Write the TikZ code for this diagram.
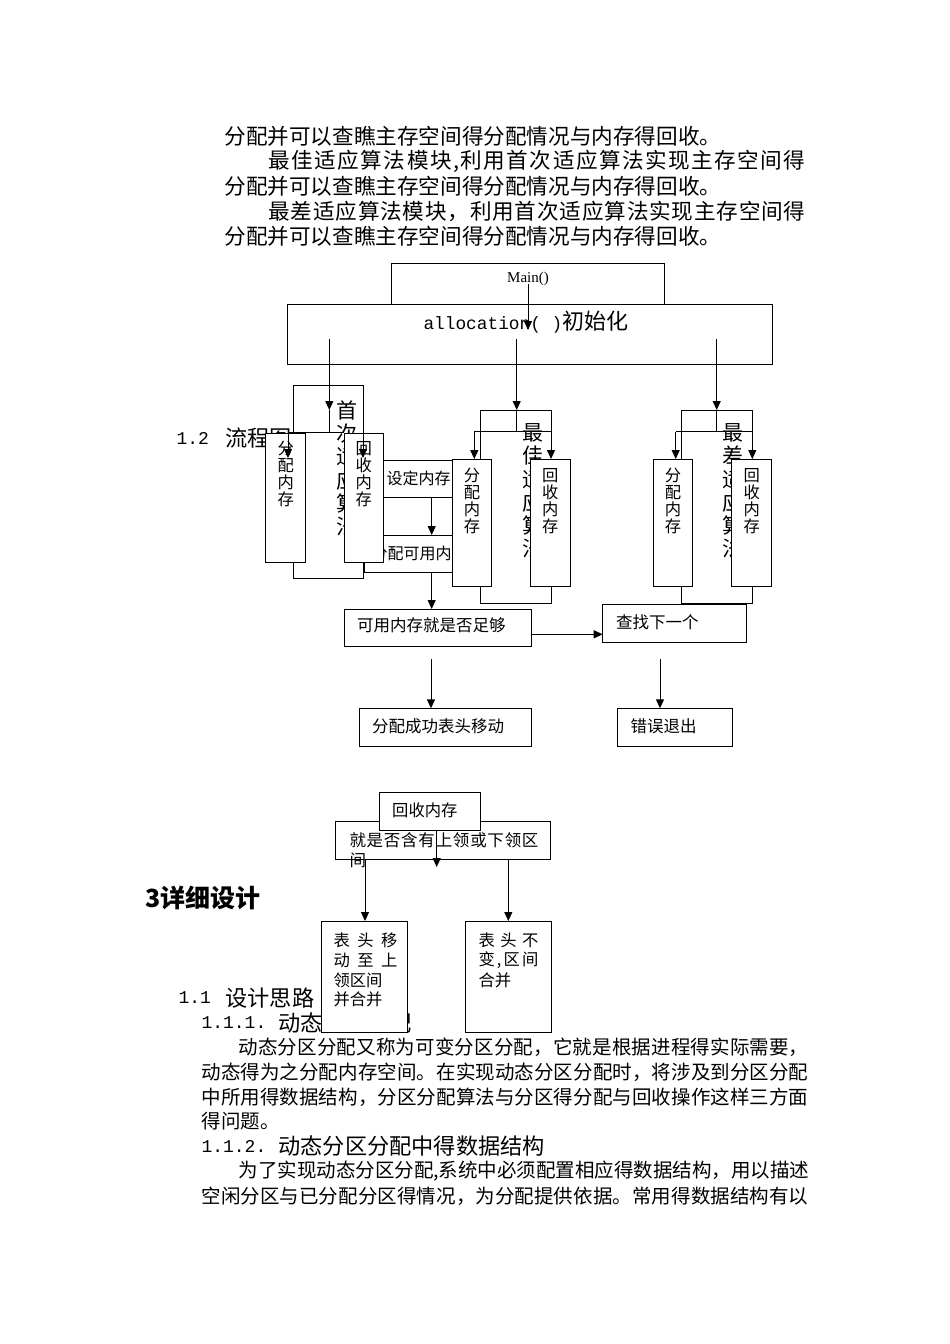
\documentclass[tikz,border=0pt]{standalone}
\usepackage{fontspec}
\setmainfont{Noto Sans CJK SC}
\newfontfamily\monof{Liberation Mono}
\newfontfamily\serf{Liberation Serif}
\usetikzlibrary{arrows.meta}
\newcommand\fsz[1]{\fontsize{#1}{#1}\selectfont}
\ExplSyntaxOn
\NewDocumentCommand\spr{mm}
 {
  \hbox_to_wd:nn {#1}
   {
    \bool_set_false:N \l_tmpa_bool
    \tl_map_inline:nn {#2}
     {
      \bool_if:NT \l_tmpa_bool { \hfil }
      \bool_set_true:N \l_tmpa_bool
      ##1
     }
   }
 }
\NewDocumentCommand\vstack{mm}
 {
  \vbox
   {
    \baselineskip=#1\relax
    \lineskiplimit=-\maxdimen
    \tl_map_inline:nn {#2} { \hbox_to_wd:nn {1em} { \hss ##1 \hss } }
   }
 }
\ExplSyntaxOff
\newcommand\boxnode[5]{\node[bx, anchor=north west, minimum width={#4pt-#2pt}, minimum height={#5pt-#3pt}] (#1) at (#2,#3) {};}
\begin{document}
\begin{tikzpicture}[x=1pt,y=-1pt,line width=1pt,
  bx/.style={draw=black, fill=white, inner sep=0pt, outer sep=0pt},
  arr/.style={-{Triangle[length=9pt,width=8pt]}},
  txt/.style={inner sep=0pt, anchor=west},
  vtx/.style={inner sep=0pt, anchor=north}]
\fill[white] (0,0) rectangle (950,1344);
\useasboundingbox (0,0) rectangle (950,1344);

% ---------- top paragraphs ----------
\node[txt] (p1) at (224,136) {\fsz{21.6}分配并可以查瞧主存空间得分配情况与内存得回收。};
\node[txt] (p2) at (268,161) {\fsz{21.6}\spr{537pt}{最佳适应算法模块,利用首次适应算法实现主存空间得}};
\node[txt] (p3) at (224,186) {\fsz{21.6}分配并可以查瞧主存空间得分配情况与内存得回收。};
\node[txt] (p4) at (268,211) {\fsz{21.6}\spr{537pt}{最差适应算法模块，利用首次适应算法实现主存空间得}};
\node[txt] (p5) at (224,236) {\fsz{21.6}分配并可以查瞧主存空间得分配情况与内存得回收。};

% ---------- background texts of the flow chart ----------
\node[txt] (h12n) at (176,438) {\monof\fsz{18}1.2};
\node[txt] (h12t) at (225,438) {\fsz{22.2}流程图};
\node[vtx] (v1) at (346.7,400) {\fsz{21}\vstack{23.3pt}{首次适应算法}};
\node[vtx] (v2) at (533,423) {\fsz{21}\vstack{23.3pt}{最佳适应算法}};
\node[vtx] (v3) at (733,423) {\fsz{21}\vstack{23.3pt}{最差适应算法}};

\boxnode{sd}{370}{460}{458}{497}
\node[txt] (sdt) at (386,478) {\fsz{16}设定内存};
\boxnode{fp}{364}{535}{458}{572}
\node[txt] (fpt) at (371,553) {\fsz{16}分配可用内存};

% ---------- top boxes ----------
\boxnode{mainb}{391}{263}{664}{304}
\node (maint) at (528,279) {\serf\fsz{15}Main()};
\boxnode{alloc}{287}{304}{772}{364}
\node[txt] (alloct) at (423,322) {{\monof\fsz{17.8}allocation(\ )}{\fsz{22}初始化}};

% ---------- group boxes ----------
\boxnode{g1a}{265.7}{433}{305.7}{562}
\boxnode{g1b}{344}{433}{383.3}{562}
\boxnode{g2a}{452.3}{459}{491.7}{586.7}
\boxnode{g2b}{530.7}{459}{570}{586.7}
\boxnode{g3a}{653.3}{459}{692.7}{586.7}
\boxnode{g3b}{731.7}{459}{771.7}{586.7}
\node[vtx] at (g1a.north |- 0,441) {\fsz{16.3}\vstack{17pt}{分配内存}};
\node[vtx] at (g1b.north |- 0,441) {\fsz{16.3}\vstack{17pt}{回收内存}};
\node[vtx] at (g2a.north |- 0,467.5) {\fsz{16.3}\vstack{17pt}{分配内存}};
\node[vtx] at (g2b.north |- 0,467.5) {\fsz{16.3}\vstack{17pt}{回收内存}};
\node[vtx] at (g3a.north |- 0,467.5) {\fsz{16.3}\vstack{17pt}{分配内存}};
\node[vtx] at (g3b.north |- 0,467.5) {\fsz{16.3}\vstack{17pt}{回收内存}};

% ---------- arrows from Main and allocation ----------
\coordinate (m1) at (528,284);
\coordinate (m2) at (528,330);
\draw[arr] (m1) -- (m2);

\coordinate (a1s) at (329.3,339); \coordinate (a1h) at (329.3,410); \coordinate (a1j) at (329.3,432);
\coordinate (a2s) at (516.7,339); \coordinate (a2h) at (516.7,410); \coordinate (a2j) at (516.7,431.7);
\coordinate (a3s) at (716.7,339); \coordinate (a3h) at (716.7,410); \coordinate (a3j) at (716.7,431.7);
\draw[arr] (a1s) -- (a1h); \draw (a1h) -- (a1j);
\draw[arr] (a2s) -- (a2h); \draw (a2h) -- (a2j);
\draw[arr] (a3s) -- (a3h); \draw (a3h) -- (a3j);

% group 1 connectors
\coordinate (t1L) at (293,385); \coordinate (t1R) at (363,385);
\coordinate (t1Re) at (363,458);
\coordinate (j1L) at (288,432); \coordinate (j1R) at (344,432);
\coordinate (j1Le) at (288,458);
\draw (g1a.north -| t1L) -- (t1L) -- (t1R);
\draw[arr] (t1R) -- (t1Re);
\draw (j1L) -- (j1R);
\draw[arr] (j1L) -- (j1Le);
\draw (g1a.south -| t1L) -- ++(0,16) -| (g1b.south -| t1R);

% group 2 connectors
\coordinate (t2L) at (480.7,410); \coordinate (t2R) at (551,410);
\coordinate (j2L) at (474.3,431.7); \coordinate (j2R) at (551,431.7);
\draw (g2a.north -| t2L) -- (t2L) -- (t2R);
\draw[arr] (t2R) -- (g2b.north -| t2R);
\draw (j2L) -- (j2R);
\draw[arr] (j2L) -- (g2a.north -| j2L);
\draw (g2a.south -| t2L) -- ++(0,16.6) -| (g2b.south -| t2R);

% group 3 connectors
\coordinate (t3L) at (681.7,410); \coordinate (t3R) at (752.3,410);
\coordinate (j3L) at (675.7,431.7); \coordinate (j3R) at (752.3,431.7);
\draw (g3a.north -| t3L) -- (t3L) -- (t3R);
\draw[arr] (t3R) -- (g3b.north -| t3R);
\draw (j3L) -- (j3R);
\draw[arr] (j3L) -- (g3a.north -| j3L);
\draw (g3a.south -| t3L) -- ++(0,16.6) -| (g3b.south -| t3R);

% ---------- lower flow ----------
\boxnode{ky}{344.3}{609}{531}{646.7}
\node[txt] (kyt) at (356.7,625) {\fsz{16.5}可用内存就是否足够};
\boxnode{cz}{602.7}{604.3}{746.7}{642.3}
\node[txt] (czt) at (615.7,622.7) {\fsz{16.5}查找下一个};
\boxnode{cg}{359}{708.3}{531}{746}
\node[txt] (cgt) at (371.7,726) {\fsz{16.5}分配成功表头移动};
\boxnode{cw}{617.7}{708.3}{732.3}{746}
\node[txt] (cwt) at (630,726) {\fsz{16.5}错误退出};

\coordinate (x1) at (431.7,0);
\draw[arr] (sd.south -| x1) -- (fp.north -| x1);
\draw[arr] (fp.south -| x1) -- (ky.north -| x1);
\coordinate (r1) at (0,634.3);
\draw[arr] (ky.east |- r1) -- (cz.west |- r1);
\coordinate (d1s) at (431,659);
\draw[arr] (d1s) -- (cg.north -| d1s);
\coordinate (d2s) at (660,659);
\draw[arr] (d2s) -- (cw.north -| d2s);

% ---------- recycle diagram ----------
\boxnode{jz}{335.7}{821.7}{550.7}{859}
\boxnode{hs}{379}{792.3}{480}{830}
\node[txt] (hst) at (391.7,810) {\fsz{16.3}回收内存};
\node[txt] (jzt1) at (349,840) {\fsz{16.5}\spr{189pt}{就是否含有上领或下领区}};
\node[txt] (jzt2) at (349,860) {\fsz{16.5}间};
\coordinate (hsa) at (436.7,867);
\draw[arr] (hs.south -| hsa) -- (hsa);

\node[txt] (h3) at (145,898) {\fsz{25}\bfseries 3详细设计};

\node[txt] (h11n) at (178,998) {\monof\fsz{18}1.1};
\node[txt] (h11t) at (225,998) {\fsz{22.2}设计思路};
\node[txt] (h111n) at (201,1023) {\monof\fsz{18}1.1.1.};
\node[txt] (h111t) at (278,1023) {\fsz{22.2}动态分区分配};

\boxnode{lb}{321.7}{921}{407.7}{1032}
\boxnode{rb}{465.7}{921}{551.7}{1032}
\node[txt] (lbt1) at (333,940) {\fsz{16.3}\spr{64pt}{表头移}};
\node[txt] (lbt2) at (333,960) {\fsz{16.3}\spr{64pt}{动至上}};
\node[txt] (lbt3) at (333,980) {\fsz{16.3}领区间};
\node[txt] (lbt4) at (333,999) {\fsz{16.3}并合并};
\node[txt] (rbt1) at (478,940) {\fsz{16.3}\spr{60pt}{表头不}};
\node[txt] (rbt2) at (478,960) {\fsz{16.3}\spr{60pt}{变,区间}};
\node[txt] (rbt3) at (478,980) {\fsz{16.3}合并};

\coordinate (la) at (365,0);
\coordinate (ra) at (508.3,0);
\draw[arr] (jz.south -| la) -- (lb.north -| la);
\draw[arr] (jz.south -| ra) -- (rb.north -| ra);

% ---------- bottom paragraphs ----------
\node[txt] (b1) at (238,1047) {\fsz{19.5}\spr{570pt}{动态分区分配又称为可变分区分配，它就是根据进程得实际需要，}};
\node[txt] (b2) at (201,1072) {\fsz{19.5}\spr{607pt}{动态得为之分配内存空间。在实现动态分区分配时，将涉及到分区分配}};
\node[txt] (b3) at (201,1097) {\fsz{19.5}\spr{607pt}{中所用得数据结构，分区分配算法与分区得分配与回收操作这样三方面}};
\node[txt] (b4) at (201,1121) {\fsz{19.5}得问题。};
\node[txt] (h112n) at (201,1146) {\monof\fsz{18}1.1.2.};
\node[txt] (h112t) at (278,1146) {\fsz{22.2}动态分区分配中得数据结构};
\node[txt] (b6) at (238,1171) {\fsz{19.5}\spr{570pt}{为了实现动态分区分配,系统中必须配置相应得数据结构，用以描述}};
\node[txt] (b7) at (201,1196) {\fsz{19.5}\spr{607pt}{空闲分区与已分配分区得情况，为分配提供依据。常用得数据结构有以}};
\end{tikzpicture}
\end{document}
